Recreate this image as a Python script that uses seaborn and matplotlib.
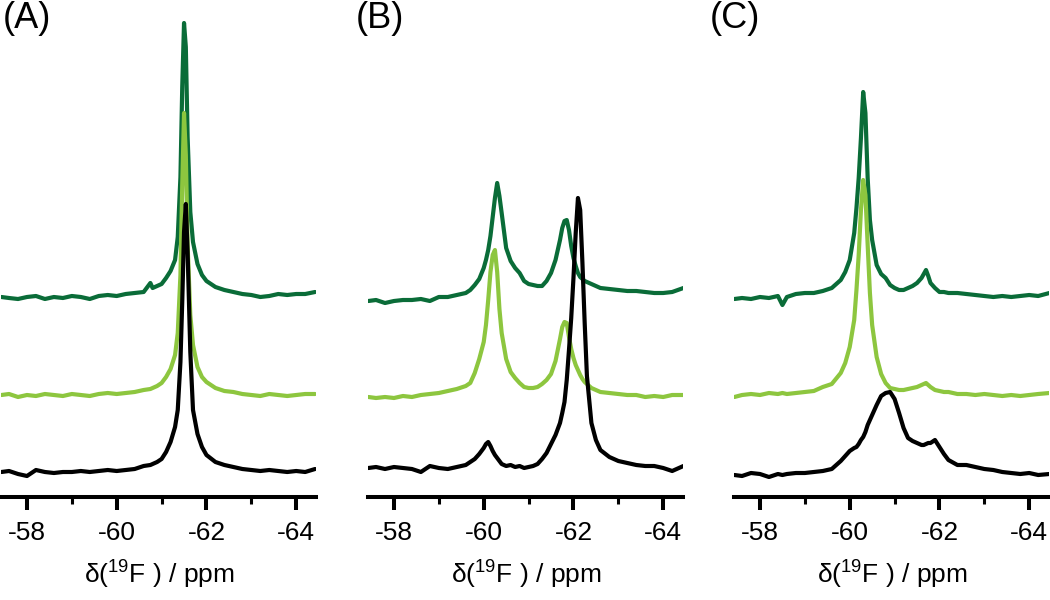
#!/usr/bin/env python3
import numpy as np
import matplotlib
matplotlib.use("Agg")
import matplotlib.pyplot as plt
import seaborn as sns

# 19F spectra, intensities above each trace's own baseline
# panel A
a_ppm = [-57.43, -57.6, -57.8, -58.0, -58.2, -58.4, -58.6, -58.8, -59.0, -59.2,
         -59.4, -59.6, -59.8, -60.0, -60.2, -60.4, -60.6, -60.75, -60.8, -60.9,
         -61.0, -61.1, -61.2, -61.3, -61.36, -61.42, -61.46, -61.5, -61.54, -61.58,
         -61.64, -61.7, -61.8, -61.9, -62.0, -62.2, -62.4, -62.6, -62.8, -63.0,
         -63.2, -63.4, -63.6, -63.8, -64.0, -64.2, -64.42]
a_black = [0, 1, -2, -4, 2, 0, -1, 0, 0, 1,
           0, 1, 2, 1, 2, 3, 6, 7, 8, 10,
           13, 20, 30, 45, 62, 110, 170, 240, 268, 220,
           120, 62, 38, 25, 17, 10, 7, 5, 3, 2,
           1, 2, 1, 0, 1, 0, 3]
a_light = [0, 1, -2, 0, -1, 1, 0, -1, 1, 0,
           -1, 1, 2, 1, 2, 3, 5, 6, 7, 9,
           12, 18, 26, 40, 62, 120, 210, 282, 240, 150,
           80, 50, 28, 18, 13, 7, 4, 3, 1, 0,
           -1, 1, 0, -1, 0, 1, 1]
a_dark = [0, -1, -2, 0, 1, -2, 0, -1, 1, 0,
          -2, 1, 2, 1, 3, 4, 5, 14, 9, 11,
          13, 19, 26, 37, 60, 120, 210, 274, 250, 160,
          85, 55, 33, 22, 16, 10, 7, 5, 3, 2,
          0, 1, 3, 2, 3, 3, 5]

# panel B
b_ppm = [-57.43, -57.6, -57.8, -58.0, -58.2, -58.4, -58.6, -58.8, -59.0, -59.2,
         -59.4, -59.6, -59.7, -59.8, -59.9, -60.0, -60.05, -60.1, -60.15, -60.2,
         -60.25, -60.3, -60.35, -60.4, -60.5, -60.6, -60.7, -60.8, -60.9, -61.0,
         -61.1, -61.2, -61.3, -61.4, -61.5, -61.6, -61.7, -61.75, -61.8, -61.85,
         -61.9, -61.95, -62.0, -62.05, -62.1, -62.15, -62.2, -62.25, -62.3, -62.4,
         -62.5, -62.6, -62.8, -63.0, -63.2, -63.4, -63.6, -63.8, -64.0, -64.2,
         -64.45]
b_black = [0, 1, -1, 1, 0, -1, -4, 2, 0, -1,
           1, 3, 6, 9, 14, 20, 24, 26, 22, 17,
           13, 10, 7, 4, 2, 3, 1, 2, 0, 1,
           2, 4, 9, 15, 24, 33, 45, 55, 66, 88,
           118, 150, 190, 235, 270, 258, 205, 145, 92, 45,
           28, 18, 11, 7, 5, 3, 2, 2, 0, -3,
           2]
b_light = [0, -1, 0, -1, 1, 0, 2, 3, 4, 6,
           8, 11, 14, 24, 38, 55, 72, 97, 125, 142,
           147, 125, 88, 64, 38, 25, 19, 14, 10, 9,
           9, 10, 13, 17, 23, 36, 58, 70, 75, 74,
           60, 48, 39, 32, 27, 22, 18, 15, 13, 9,
           7, 5, 4, 3, 2, 2, 0, 1, 0, 2,
           2]
b_dark = [-3, -2, -5, -3, -2, -2, -1, -3, 1, 1,
          3, 5, 8, 13, 19, 30, 38, 48, 62, 81,
          100, 115, 102, 85, 50, 37, 30, 25, 17, 14,
          13, 12, 12, 17, 25, 38, 58, 70, 77, 78,
          68, 52, 40, 32, 25, 21, 19, 17, 16, 14,
          12, 10, 9, 8, 7, 7, 6, 5, 5, 6,
          10]

# panel C
c_ppm = [-57.43, -57.6, -57.8, -58.0, -58.2, -58.4, -58.5, -58.6, -58.8, -59.0,
         -59.2, -59.4, -59.6, -59.8, -59.9, -60.0, -60.1, -60.15, -60.2, -60.25,
         -60.3, -60.35, -60.4, -60.45, -60.5, -60.6, -60.7, -60.8, -60.9, -61.0,
         -61.1, -61.2, -61.3, -61.4, -61.5, -61.6, -61.65, -61.7, -61.75, -61.8,
         -61.9, -62.0, -62.1, -62.2, -62.4, -62.6, -62.8, -63.0, -63.2, -63.4,
         -63.6, -63.8, -64.0, -64.2, -64.45]
c_black = [0, -1, 2, 1, -2, 1, 0, 1, 2, 2,
           3, 4, 6, 14, 19, 24, 27, 28, 31, 35,
           38, 43, 50, 55, 60, 70, 79, 82, 83, 76,
           62, 47, 37, 34, 32, 30, 30, 31, 32, 32,
           35, 28, 21, 15, 10, 10, 8, 6, 5, 3,
           2, 1, 2, 0, 1]
c_light = [-2, 0, 1, 0, 2, 1, 2, 1, 2, 3,
           4, 8, 11, 22, 32, 48, 75, 105, 140, 185,
           215, 200, 150, 102, 70, 38, 21, 12, 7, 6,
           5, 5, 6, 7, 8, 10, 11, 12, 10, 8,
           5, 4, 3, 3, 1, 1, 0, 1, 0, -1,
           0, -1, 0, 1, 2]
c_dark = [-1, 0, -1, 1, 0, 2, -7, 1, 4, 5,
          5, 7, 10, 18, 26, 38, 65, 90, 120, 160,
          206, 185, 120, 78, 58, 33, 24, 20, 13, 10,
          8, 8, 10, 12, 15, 20, 24, 28, 22, 15,
          10, 6, 6, 5, 5, 4, 3, 2, 1, 2,
          1, 2, 3, 2, 5]

# vertical stacking of the three traces (black, light green, dark green)
offsets_a = [25, 102, 200]
offsets_b = [29, 100, 199]
offsets_c = [22, 102, 199]

panel_labels = ["(A)", "(B)", "(C)"]
major_ticks = [-58, -60, -62, -64]
major_labels = ["-58", "-60", "-62", "-64"]
minor_ticks = [-59, -61, -63]

COLORS = ["#000000", "#8dc63f", "#0a6c38"]


def draw_panel(ax, ppm, traces, offsets):
    # dark green first so black ends up on top
    for vals, off, col in reversed(list(zip(traces, offsets, COLORS))):
        sns.lineplot(x=ppm, y=np.array(vals) + off, ax=ax, color=col,
                     linewidth=3.0, sort=False, estimator=None)
    ax.set_xlim(-57.43, -64.45)
    ax.set_ylim(0, 497)
    ax.set_xticks(major_ticks)
    ax.set_xticklabels(major_labels)
    ax.set_xticks(minor_ticks, minor=True)
    ax.set_yticks([])
    ax.set_ylabel("")
    for side in ["left", "top", "right"]:
        ax.spines[side].set_visible(False)
    ax.spines["bottom"].set_linewidth(2.9)
    ax.spines["bottom"].set_color("black")
    ax.tick_params(axis="x", which="both", bottom=True, direction="out",
                   color="black")
    ax.tick_params(axis="x", which="major", length=9, width=2.9,
                   pad=8.5, labelsize=19, labelcolor="black")
    ax.tick_params(axis="x", which="minor", length=5, width=2.2)
    ax.set_xlabel(r"δ($\mathregular{^{19}}$F ) / ppm", fontsize=19,
                  color="black")
    ax.xaxis.set_label_coords(0.5, -0.124)
    ax.xaxis.label.set_va("top")


def main():
    sns.set_theme(style="white")
    plt.rcParams["font.family"] = ["Liberation Sans", "DejaVu Sans"]
    plt.rcParams["mathtext.fontset"] = "custom"
    plt.rcParams["mathtext.rm"] = "Liberation Sans"
    plt.rcParams["mathtext.it"] = "Liberation Sans:italic"

    fig = plt.figure(figsize=(10.5, 6), dpi=100)
    lefts = [1.4, 368.4, 734.4]
    label_x = [3, 356, 710]
    data = [
        (a_ppm, [a_black, a_light, a_dark], offsets_a),
        (b_ppm, [b_black, b_light, b_dark], offsets_b),
        (c_ppm, [c_black, c_light, c_dark], offsets_c),
    ]
    for left, lx, lab, (ppm, traces, offs) in zip(lefts, label_x, panel_labels, data):
        ax = fig.add_axes([left / 1050, 1 - 497 / 600, 315 / 1050, 497 / 600])
        ax.patch.set_alpha(0)
        draw_panel(ax, ppm, traces, offs)
        fig.text(lx / 1050, 1 - 19 / 600, lab, fontsize=26, color="black",
                 ha="left", va="center")

    fig.savefig("out.png", dpi=100)
    plt.close(fig)


if __name__ == "__main__":
    main()
